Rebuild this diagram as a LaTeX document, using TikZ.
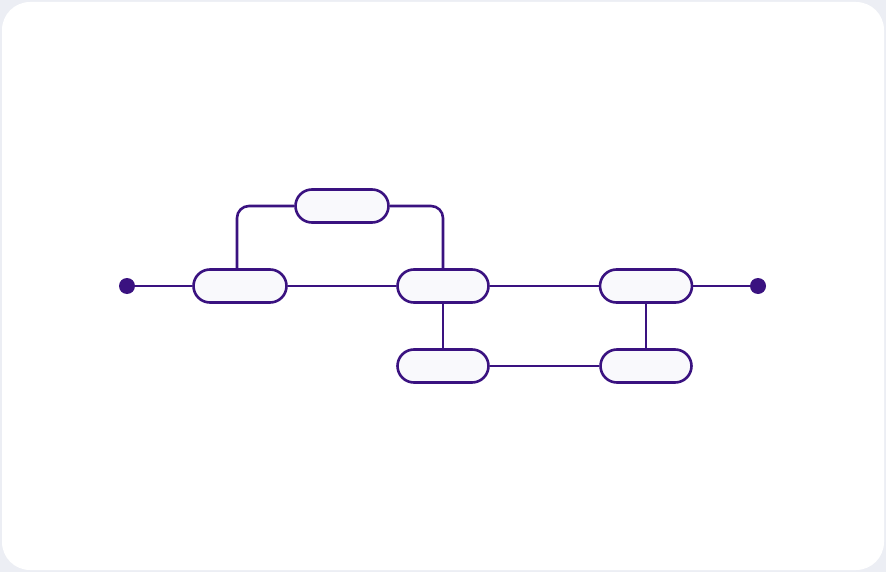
\documentclass[tikz,border=0pt]{standalone}
\definecolor{bgout}{HTML}{ECEEF4}
\definecolor{ink}{HTML}{3A1280}
\definecolor{pillfill}{HTML}{F9F9FC}
\begin{document}
\begin{tikzpicture}[x=1pt,y=-1pt,
  pill/.style={draw=ink, line width=2.6pt, fill=pillfill, rounded corners=16.5pt, minimum width=93pt, minimum height=33pt, inner sep=0pt},
  conn/.style={draw=ink, line width=2.6pt, rounded corners=12pt},
  dotnode/.style={circle, fill=ink, minimum size=16pt, inner sep=0pt}]
  \fill[bgout] (0,0) rectangle (886,572);
  \fill[white, rounded corners=28pt] (2,2) rectangle (884,570);
  \useasboundingbox (0,0) rectangle (886,572);
  % nodes
  \node[dotnode] (s) at (127,286) {};
  \node[dotnode] (e) at (758,286) {};
  \node[pill] (a) at (240,286) {};
  \node[pill] (t) at (342,206) {};
  \node[pill, minimum width=91pt] (b) at (443,286) {};
  \node[pill, minimum width=91pt] (c) at (443,366) {};
  \node[pill, minimum width=92pt] (d) at (646,286) {};
  \node[pill, minimum width=91pt] (f) at (646,366) {};
  % connectors
  \draw[conn] (s) -- (a);
  \draw[conn] (a) -- (b);
  \draw[conn] (b) -- (d);
  \draw[conn] (d) -- (e);
  \draw[conn] (a.north -| 237,0) |- (t.west);
  \draw[conn] (t.east) -| (b.north);
  \draw[conn] (b) -- (c);
  \draw[conn] (c) -- (f);
  \draw[conn] (d) -- (f);
\end{tikzpicture}
\end{document}
